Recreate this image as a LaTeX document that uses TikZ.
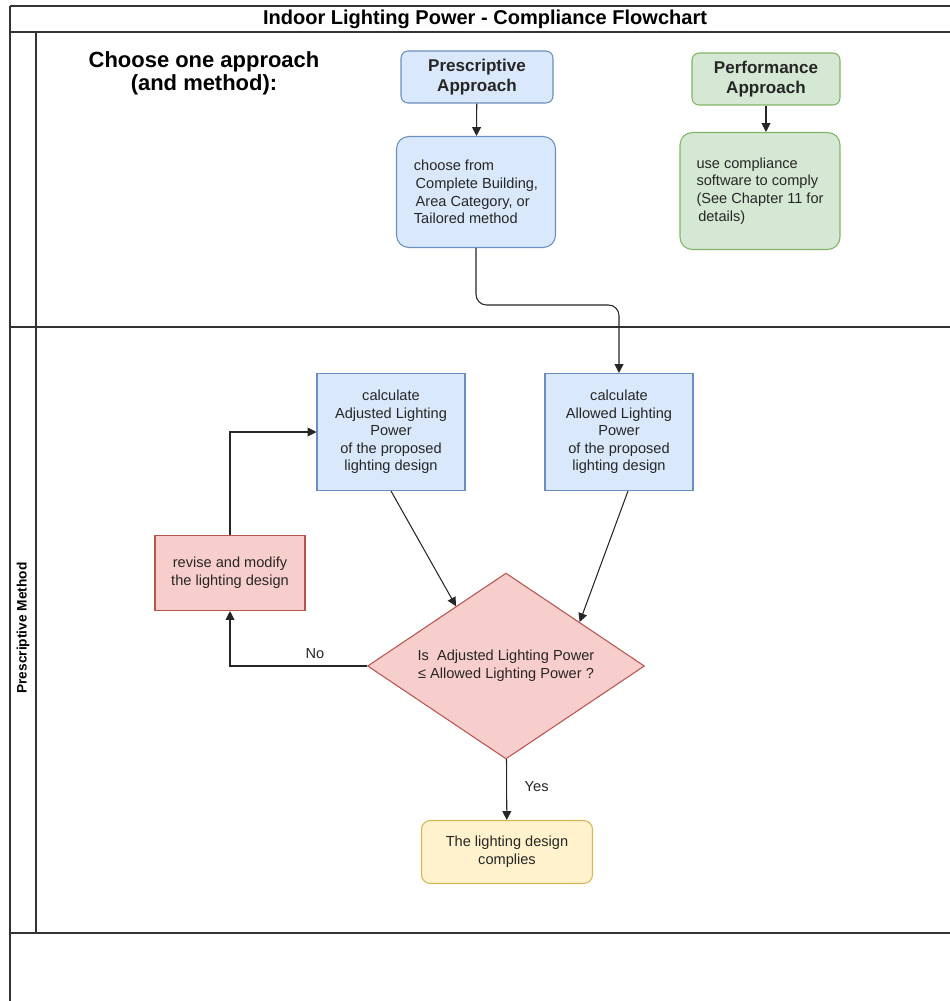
\documentclass[tikz,border=0pt]{standalone}
\usepackage{fontspec}
\setmainfont{Liberation Sans}
\usetikzlibrary{shapes.geometric,arrows.meta,calc}

\definecolor{blueFill}{HTML}{DAE8FC}
\definecolor{blueLine}{HTML}{6C8EBF}
\definecolor{greenFill}{HTML}{D5E8D4}
\definecolor{greenLine}{HTML}{82B366}
\definecolor{redFill}{HTML}{F8CECC}
\definecolor{redLine}{HTML}{B85450}
\definecolor{yellowFill}{HTML}{FFF2CC}
\definecolor{yellowLine}{HTML}{D6B656}

\begin{document}
\begin{tikzpicture}[x=0.02cm, y=-0.02cm,
    txt/.style={font=\fontsize{8.3}{10}\selectfont, text=black!85, align=center, inner sep=2pt},
    bluebox/.style={txt, draw=blueLine, fill=blueFill, line width=0.6pt},
    greenbox/.style={txt, draw=greenLine, fill=greenFill, line width=0.6pt},
    redbox/.style={txt, draw=redLine, fill=redFill, line width=0.6pt},
    yellowbox/.style={txt, draw=yellowLine, fill=yellowFill, line width=0.6pt},
    headbox/.style={font=\bfseries\fontsize{9.7}{11.2}\selectfont},
    arr/.style={-{Triangle[length=5pt,width=5pt]}, black!85, line width=0.6pt},
    lane/.style={black!80, line width=0.7pt}
  ]
    \useasboundingbox (0,0) rectangle (950,1001);

    % Pool frame and lanes
    \foreach \y in {6, 32, 327, 933} {
      \draw[lane] (10,\y) -- (950,\y);
    }
    \draw[lane] (10,6) -- (10,1001);
    \draw[lane] (36,32) -- (36,933);

    % Titles
    \node[font=\bfseries\fontsize{11.4}{12}\selectfont] (title) at (485,19) {Indoor Lighting Power - Compliance Flowchart};
    \node[font=\bfseries\fontsize{12.5}{13}\selectfont, align=center] (choosehead) at (204,73) {Choose one approach\\(and method):};
    \node[font=\bfseries\fontsize{7.8}{9}\selectfont, rotate=90] (lanelabel) at (23,628) {Prescriptive Method};

    % Approaches (top lane)
    \node[bluebox, headbox, rounded corners=4pt, minimum width=3.04cm, minimum height=1.04cm] (pre) at (477,77) {Prescriptive\\Approach};
    \node[bluebox, rounded corners=7pt, minimum width=3.18cm, minimum height=2.22cm, align=left] (choose) at (476,192)
      {choose from\\\hspace*{1pt}Complete Building,\\\hspace*{1pt}Area Category, or\\Tailored method};
    \node[greenbox, headbox, rounded corners=4pt, minimum width=2.96cm, minimum height=1.04cm] (perf) at (766,79) {Performance\\Approach};
    \node[greenbox, rounded corners=7pt, minimum width=3.2cm, minimum height=2.34cm, align=left] (soft) at (760,191)
      {use compliance\\software to comply\\(See Chapter 11 for\\\hspace*{1pt}details)};

    % Prescriptive method (bottom lane)
    \node[bluebox, minimum width=2.96cm, minimum height=2.34cm] (adj) at (391,432)
      {calculate\\Adjusted Lighting\\Power\\of the proposed\\lighting design};
    \node[bluebox, minimum width=2.96cm, minimum height=2.34cm] (allow) at (619,432)
      {calculate\\Allowed Lighting\\Power\\of the proposed\\lighting design};
    \node[redbox, minimum width=3.0cm, minimum height=1.5cm] (revise) at (230,573)
      {revise and modify\\the lighting design};
    \node[redbox, diamond, aspect=1.49, inner sep=0pt, minimum width=5.54cm, minimum height=3.72cm] (dec) at (506,666)
      {Is\ \ Adjusted Lighting Power\\≤ Allowed Lighting Power ?};
    \node[yellowbox, rounded corners=5pt, minimum width=3.42cm, minimum height=1.26cm] (ok) at (507,852)
      {The lighting design\\complies};

    % Connectors
    \coordinate (bend) at (476,305);
    \draw[arr] (pre) -- (choose);
    \draw[arr] (perf.south) -- (perf.south |- soft.north);
    \draw[arr, rounded corners=6pt] (choose) -- (bend) -| (allow);
    \draw[arr] (adj.south) -- ($(dec.north)!0.36!(dec.west)$);
    \draw[arr] ([xshift=0.18cm]allow.south) -- ($(dec.north)!0.53!(dec.east)$);
    \draw[arr] (dec.west) -| node[txt, pos=0.19, above=2pt] {No} (revise);
    \draw[arr] (revise) |- (adj);
    \draw[arr] (dec) -- node[txt, pos=0.45, right=8pt] {Yes} (ok);
  \end{tikzpicture}
\end{document}
